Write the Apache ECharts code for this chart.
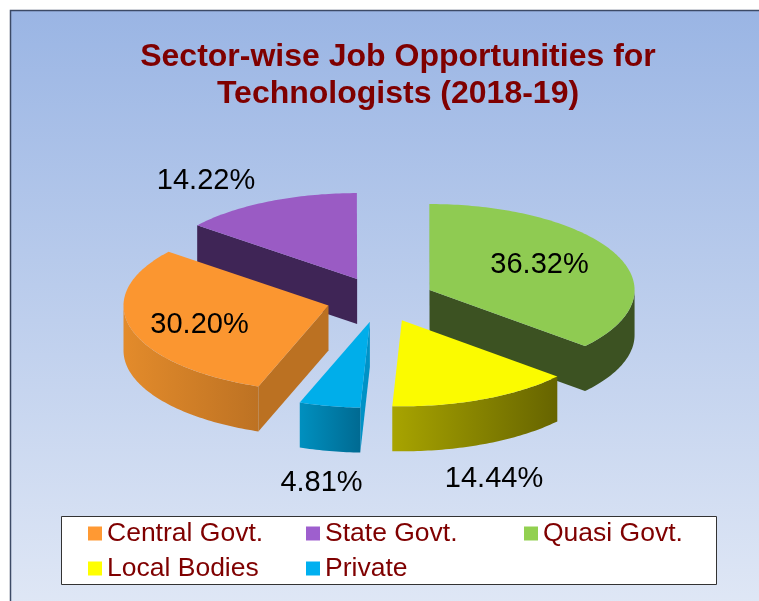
<!DOCTYPE html>
<html>
<head>
<meta charset="utf-8">
<style>
  html, body { margin: 0; padding: 0; background: #fff; }
  #chart { width: 759px; height: 601px; }
</style>
<script src="https://cdn.jsdelivr.net/npm/echarts@6/dist/echarts.min.js"></script>
</head>
<body>
<div id="chart"></div>
<script>
const titleText = 'Sector-wise Job Opportunities for\nTechnologists (2018-19)';
const categories = ['Central Govt.', 'State Govt.', 'Quasi Govt.', 'Local Bodies', 'Private'];
const shares = [30.20, 14.22, 36.32, 14.44, 4.81];

// colours, same order as categories
const legendColors = ['#ff9933', '#9e5fce', '#92d050', '#ffff00', '#00b0f0'];
const topColors = ['#fb9630', '#9a5bc4', '#8fcb52', '#fbfb00', '#00aeea'];
const edgeColors = ['#bb7122', '#3f2556', '#3c5222', '#666400', '#0092c6'];
const wallLeft = ['#e38b2b', '#3f2556', '#3c5222', '#a8a400', '#0090bf'];
const wallRight = ['#bd7223', '#3f2556', '#3c5222', '#666400', '#006a92'];

// layout of the fake 3d pie
const firstAngle = 200;
const cx = 380.5, cy = 299.5, rx = 205, ry = 86, depth = 45, explode = 54;
const labelAt = [[199.5, 325], [206, 181], [539.5, 265], [494, 479], [321.5, 483]];
const legendAt = [[88, 520], [306, 520], [524, 520], [88, 555], [306, 555]];
const drawOrder = [1, 2, 0, 3, 4];

const total = shares.reduce((a, b) => a + b, 0);
const ranges = [];
let running = firstAngle;
shares.forEach((s) => {
  ranges.push([running, running + (s / total) * 360]);
  running += (s / total) * 360;
});

function rad(deg) {
  return (deg * Math.PI) / 180;
}

// angle is clockwise from straight up, like a pie
function onRim(ax, ay, deg) {
  return [ax + rx * Math.sin(rad(deg)), ay - ry * Math.cos(rad(deg))];
}

function arcPoints(ax, ay, from, to) {
  const pts = [];
  const steps = Math.max(2, Math.ceil(Math.abs(to - from)));
  for (let i = 0; i <= steps; i++) {
    pts.push(onRim(ax, ay, from + ((to - from) * i) / steps));
  }
  return pts;
}

function edgeWall(ax, ay, deg, fill) {
  const p = onRim(ax, ay, deg);
  return {
    type: 'polygon',
    shape: { points: [[ax, ay], p, [p[0], p[1] + depth], [ax, ay + depth]] },
    style: { fill: fill },
  };
}

function renderSlice(idx) {
  return function (params, api) {
    const start = api.value(0);
    const end = api.value(1);
    const mid = rad((start + end) / 2);
    const ax = cx + explode * Math.sin(mid);
    const ay = cy - (explode * ry * Math.cos(mid)) / rx;
    const kids = [];

    // flat walls along the cut, only where they face the viewer
    if (Math.sin(rad(start)) < -0.001) kids.push(edgeWall(ax, ay, start, edgeColors[idx]));
    if (Math.sin(rad(end)) > 0.001) kids.push(edgeWall(ax, ay, end, edgeColors[idx]));

    // outer wall, front half of the rim only
    [0, 360].forEach((turn) => {
      const from = Math.max(start, 90 + turn);
      const to = Math.min(end, 270 + turn);
      if (to <= from) return;
      const upper = arcPoints(ax, ay, from, to);
      const lower = upper.map((p) => [p[0], p[1] + depth]).reverse();
      kids.push({
        type: 'polygon',
        shape: { points: upper.concat(lower) },
        style: {
          fill: new echarts.graphic.LinearGradient(0, 0, 1, 0, [
            { offset: 0, color: wallLeft[idx] },
            { offset: 1, color: wallRight[idx] },
          ]),
        },
      });
    });

    kids.push({
      type: 'polygon',
      shape: { points: [[ax, ay]].concat(arcPoints(ax, ay, start, end)) },
      style: { fill: topColors[idx] },
    });
    kids.push({
      type: 'text',
      x: labelAt[idx][0],
      y: labelAt[idx][1],
      style: {
        text: shares[idx].toFixed(2) + '%',
        font: '29px "Liberation Sans", Arial, sans-serif',
        fill: '#000',
        align: 'center',
        verticalAlign: 'middle',
      },
    });
    return { type: 'group', children: kids };
  };
}

const myChart = echarts.init(document.getElementById('chart'), null, { renderer: 'canvas' });

myChart.setOption({
  animation: false,
  title: {
    text: titleText,
    left: 393,
    top: 34,
    textAlign: 'center',
    textStyle: {
      color: '#7f0000',
      fontFamily: '"Liberation Sans", Arial, sans-serif',
      fontWeight: 'bold',
      fontSize: 32,
      lineHeight: 36.5,
    },
  },
  graphic: [
    {
      type: 'rect',
      z: -2,
      shape: { x: 10.5, y: 10.5, width: 770, height: 620 },
      style: {
        fill: new echarts.graphic.LinearGradient(0, 0, 0, 1, [
          { offset: 0, color: '#9ab5e4' },
          { offset: 1, color: '#e2e9f6' },
        ]),
        stroke: '#3c4a66',
        lineWidth: 1.5,
      },
    },
    {
      type: 'rect',
      z: -1,
      shape: { x: 61.5, y: 516.5, width: 655, height: 68 },
      style: { fill: '#fff', stroke: '#333', lineWidth: 1 },
    },
  ],
  legend: categories.map((name, i) => ({
    data: [name],
    left: legendAt[i][0],
    top: legendAt[i][1],
    padding: 0,
    icon: 'rect',
    itemWidth: 14,
    itemHeight: 14,
    selectedMode: false,
    textStyle: {
      color: '#7f0000',
      fontFamily: '"Liberation Sans", Arial, sans-serif',
      fontSize: 26.5,
    },
  })),
  series: drawOrder.map((idx) => ({
    type: 'custom',
    name: categories[idx],
    coordinateSystem: 'none',
    silent: true,
    itemStyle: { color: legendColors[idx] },
    renderItem: renderSlice(idx),
    data: [ranges[idx]],
  })),
});
</script>
</body>
</html>
